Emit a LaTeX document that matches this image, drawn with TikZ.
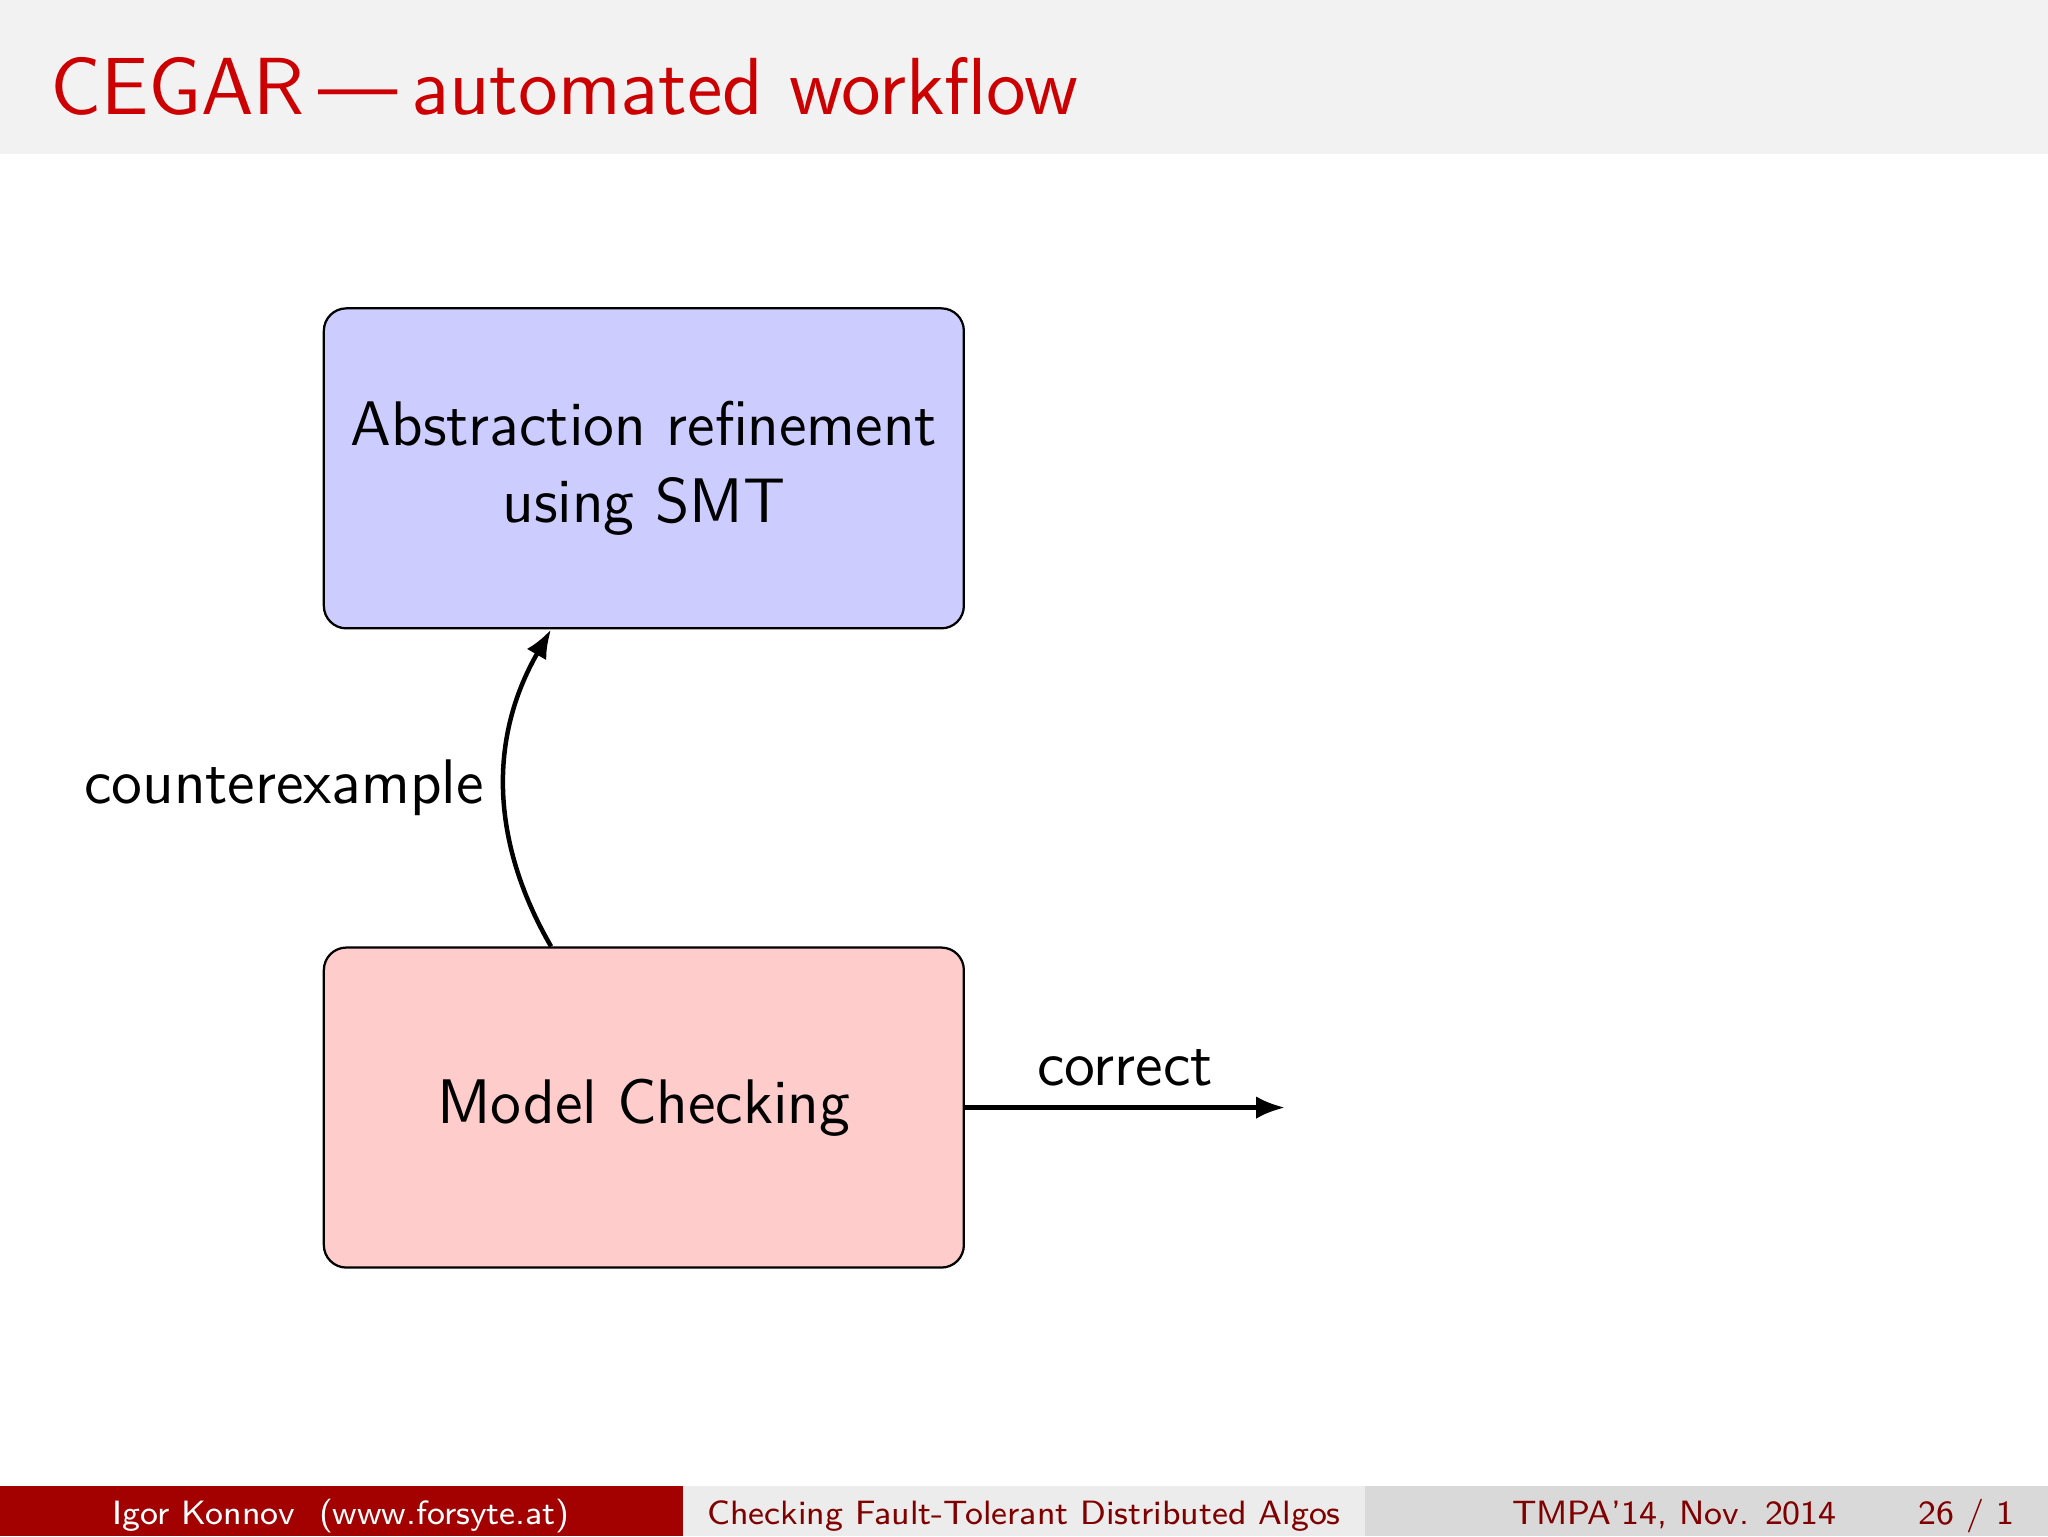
\documentclass[tikz,border=0pt]{standalone}
\usepackage{tikz}
\usetikzlibrary{calc}
\usetikzlibrary{arrows.meta}
\usepackage{xcolor}

\definecolor{titlegray}{RGB}{242,242,242}
\definecolor{titlered}{RGB}{204,0,0}
\definecolor{footred}{RGB}{163,0,0}
\definecolor{footlight}{RGB}{236,236,236}
\definecolor{footgray}{RGB}{217,217,217}
\definecolor{foottext}{RGB}{128,0,0}

\tikzset{
  stepbox/.style={draw, rounded corners, minimum width=4cm, minimum height=2cm,
    align=center, font=\sffamily\fontsize{11.2}{13.6}\selectfont},
  lbl/.style={font=\sffamily\fontsize{11.2}{13.6}\selectfont},
  flow/.style={thick, -{Latex[length=1.8mm,width=1.4mm]}},
  foot/.style={anchor=base, inner sep=0, font=\sffamily\fontsize{6}{7}\selectfont},
}

\begin{document}
\begin{tikzpicture}
  \useasboundingbox (0,-9.6) rectangle (12.8,0);

  % title bar
  \fill[titlegray] (0,0) rectangle (12.8,-0.963);
  \node[anchor=base west, inner sep=0, text=titlered, font=\sffamily\Large]
    (title) at (0.31,-0.718) {CEGAR\,---\,automated workflow};

  % the two steps
  \node[stepbox, fill=blue!20] (abs) at (4.024,-2.927) {Abstraction refinement\\using SMT};
  \node[stepbox, fill=red!20] (mc) at (4.024,-6.922) {Model Checking};
  \coordinate (out) at ($(mc.east)+(2,0)$);

  \draw[flow] ($(mc.north)+(-0.58,0)$) to[bend left=30]
    node[lbl,left] (cex) {counterexample} ($(abs.south)+(-0.58,0)$);

  \draw[flow] (mc.east) -- node[lbl,above] (ok) {correct} (out);

  % footline
  \fill[footred] (0,-9.29) rectangle (4.267,-9.6);
  \fill[footlight] (4.267,-9.29) rectangle (8.533,-9.6);
  \fill[footgray] (8.533,-9.29) rectangle (12.8,-9.6);

  \node[foot, text=white] (author) at (2.133,-9.526) {Igor Konnov\ \ (www.forsyte.at)};
  \node[foot, text=foottext] (talk) at (6.4,-9.526) {Checking Fault-Tolerant Distributed Algos};
  \node[foot, anchor=base east, text=foottext] (date) at (11.486,-9.526) {TMPA'14, Nov. 2014};
  \node[foot, anchor=base east, text=foottext] (page) at (12.596,-9.526) {26 / 1};
\end{tikzpicture}
\end{document}
